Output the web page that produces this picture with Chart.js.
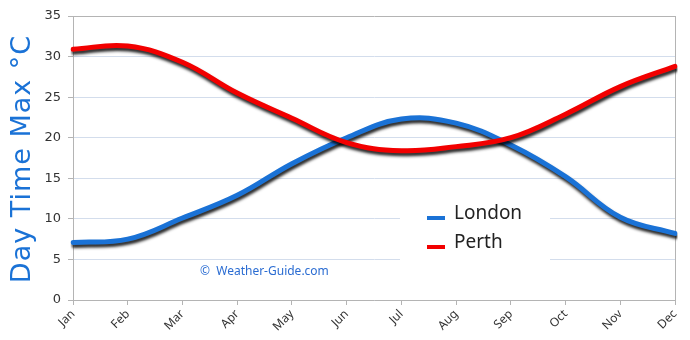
<!DOCTYPE html>
<html>
<head>
<meta charset="utf-8">
<script src="https://cdn.jsdelivr.net/npm/chart.js@4"></script>
<style>
  html, body { margin: 0; padding: 0; background: #fff; }
  #wrap { width: 690px; height: 340px; position: relative; }
</style>
</head>
<body>
<div id="wrap"><canvas id="chart"></canvas></div>
<script>
// monthly average day time max temperatures (°C)
const months = ['Jan', 'Feb', 'Mar', 'Apr', 'May', 'Jun', 'Jul', 'Aug', 'Sep', 'Oct', 'Nov', 'Dec'];
const londonMax = [7.1, 7.5, 10.1, 12.9, 16.8, 20.0, 22.3, 21.8, 19.1, 15.2, 10.2, 8.2];
const perthMax = [30.9, 31.3, 29.3, 25.5, 22.4, 19.4, 18.4, 18.9, 20.0, 22.9, 26.3, 28.8];
const yTicks = [0, 5, 10, 15, 20, 25, 30, 35];

const BLUE = '#1a72d6';
const RED = '#f20000';
const AXIS = '#b4b4b4';

// dark drop shadow under each line
const lineShadow = {
    id: 'lineShadow',
    beforeDatasetDraw(chart) {
        const ctx = chart.ctx;
        ctx.save();
        ctx.shadowColor = 'rgba(0,0,0,0.85)';
        ctx.shadowBlur = 3;
        ctx.shadowOffsetX = 1;
        ctx.shadowOffsetY = 3;
    },
    afterDatasetDraw(chart) {
        chart.ctx.restore();
    }
};

// legend box, watermark and the rotated axis title
const extras = {
    id: 'extras',
    beforeDatasetsDraw(chart) {
        const ctx = chart.ctx;
        ctx.save();
        ctx.fillStyle = '#fff';
        ctx.fillRect(400, 195, 150, 70);
        const items = [['London', BLUE, 218], ['Perth', RED, 247]];
        ctx.lineWidth = 4;
        ctx.font = '19px "Noto Sans"';
        ctx.textBaseline = 'middle';
        items.forEach(([name, color, y]) => {
            ctx.strokeStyle = color;
            ctx.beginPath();
            ctx.moveTo(427, y);
            ctx.lineTo(445, y);
            ctx.stroke();
            ctx.fillStyle = '#222';
            ctx.fillText(name, 454, y - 4);
        });
        ctx.fillStyle = '#2a6cd2';
        ctx.font = '12px "Noto Sans"';
        ctx.fillText('\u00A9  Weather-Guide.com', 200, 272);

        // y axis title
        ctx.translate(23, 159);
        ctx.rotate(-Math.PI / 2);
        ctx.textAlign = 'center';
        ctx.fillStyle = BLUE;
        ctx.font = '27px "DejaVu Sans"';
        ctx.letterSpacing = '1px';
        ctx.fillText('Day Time Max °C', 0, 0);
        ctx.restore();
    }
};

new Chart(document.getElementById('chart'), {
    type: 'line',
    data: {
        labels: months,
        datasets: [
            { label: 'London', data: londonMax, borderColor: BLUE, order: 2 },
            { label: 'Perth', data: perthMax, borderColor: RED, order: 1 }
        ]
    },
    options: {
        responsive: true,
        maintainAspectRatio: false,
        animation: false,
        layout: { padding: { top: 16, right: 15, left: 0, bottom: 0 } },
        elements: {
            line: { borderWidth: 5, tension: 0.4, fill: false, borderCapStyle: 'round' },
            point: { radius: 0 }
        },
        plugins: {
            legend: { display: false },
            tooltip: { enabled: false }
        },
        scales: {
            x: {
                offset: false,
                afterFit(scale) { scale.height = 40; },
                grid: {
                    color: c => c.index === months.length - 1 ? AXIS : 'transparent',
                    tickColor: AXIS,
                    tickLength: 5
                },
                border: { color: AXIS },
                ticks: {
                    minRotation: 45,
                    maxRotation: 45,
                    color: '#333',
                    font: { family: 'Noto Sans', size: 12 },
                    padding: 2
                }
            },
            y: {
                min: 0,
                max: 35,
                afterFit(scale) { scale.width = 73; },
                afterBuildTicks(scale) { scale.ticks = yTicks.map(v => ({ value: v })); },
                grid: {
                    color: c => c.tick.value === 35 ? AXIS : '#d3ddec',
                    tickColor: AXIS,
                    tickLength: 5
                },
                border: { color: AXIS },
                ticks: {
                    color: '#333',
                    font: { family: 'DejaVu Sans', size: 13 },
                    padding: 7
                }
            }
        }
    },
    plugins: [lineShadow, extras]
});
</script>
</body>
</html>
